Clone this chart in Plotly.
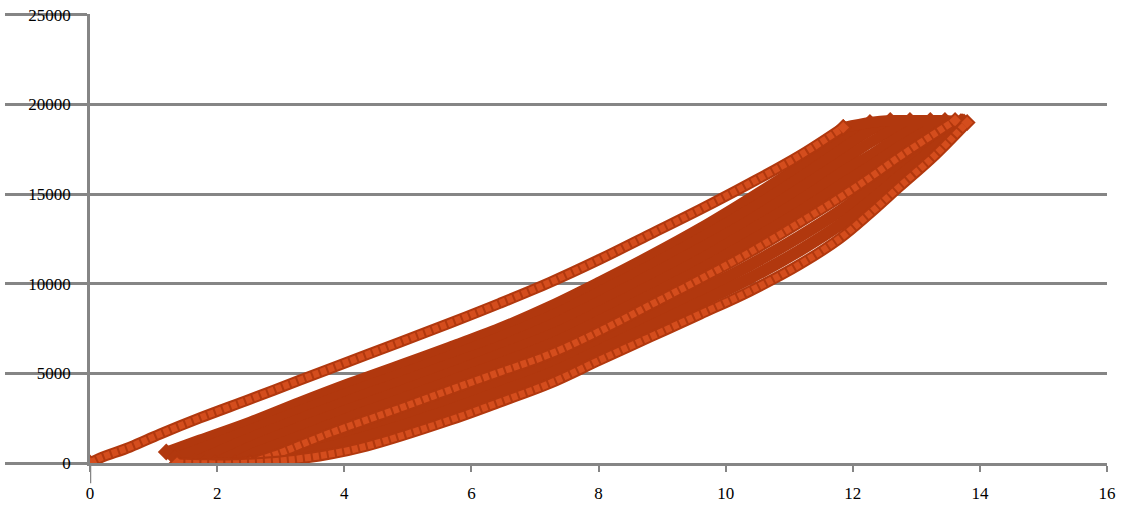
import plotly.graph_objects as go

# ---- data (stroke vs. load) ----
# initial loading curve
a_x = [0, 0.16, 0.63, 1.10, 1.73, 2.52, 3.30, 4.09, 4.88, 5.66, 6.45, 7.24, 8.02, 8.81, 9.60, 10.38, 11.17, 11.85]
a_y = [0, 280, 890, 1610, 2510, 3560, 4620, 5680, 6740, 7800, 8910, 10080, 11360, 12750, 14140, 15590, 17150, 18710]

# upper edge of the dense cycle band
b_x = [1.20, 1.73, 2.52, 3.30, 4.09, 4.88, 5.66, 6.45, 7.24, 8.02, 8.81, 9.60, 10.38, 11.17, 11.80, 12.27]
b_y = [610, 1280, 2280, 3380, 4450, 5460, 6460, 7520, 8740, 10100, 11550, 13090, 14760, 16540, 18100, 18990]

# cycles inside the band
c1_x = [1.34, 1.73, 2.52, 3.30, 4.09, 4.88, 5.66, 6.45, 7.24, 8.02, 8.81, 9.60, 10.38, 11.17, 11.80, 12.27, 12.59]
c1_y = [280, 780, 1840, 2900, 3950, 4960, 5960, 7020, 8190, 9550, 11000, 12530, 14140, 15920, 17430, 18540, 19100]

c2_x = [1.65, 2.52, 3.30, 4.09, 4.88, 5.66, 6.45, 7.24, 8.02, 8.81, 9.60, 10.38, 11.17, 11.80, 12.27, 12.74, 12.90]
c2_y = [60, 1390, 2450, 3510, 4510, 5510, 6510, 7680, 9010, 10460, 11970, 13530, 15310, 16760, 17870, 18820, 19100]

c3_x = [1.97, 2.52, 3.30, 4.09, 4.88, 5.66, 6.45, 7.24, 8.02, 8.81, 9.60, 10.38, 11.17, 11.80, 12.27, 12.74, 13.22]
c3_y = [0, 890, 2000, 3010, 4010, 5010, 6070, 7130, 8450, 9880, 11360, 12970, 14640, 16150, 17150, 18210, 19100]

c4_x = [2.28, 2.52, 3.30, 4.09, 4.88, 5.66, 6.45, 7.24, 8.02, 8.81, 9.60, 10.38, 11.17, 11.80, 12.27, 12.74, 13.22, 13.45]
c4_y = [0, 450, 1500, 2560, 3560, 4570, 5570, 6630, 7950, 9350, 10800, 12360, 14030, 15480, 16540, 17650, 18650, 19100]

# peak load of each cycle
pk_x = [11.85, 12.27, 12.59, 12.90, 13.22, 13.45, 13.72]
pk_y = [18710, 18990, 19100, 19100, 19100, 19100, 19040]

# last unloading curves (lower edge)
l1_x = [2.52, 2.99, 3.30, 3.78, 4.88, 5.66, 6.45, 7.24, 8.02, 8.81, 9.60, 10.38, 11.17, 11.80, 12.27, 12.74, 13.22, 13.61]
l1_y = [0, 560, 1000, 1670, 3060, 4070, 5070, 6070, 7350, 8800, 10250, 11750, 13420, 14810, 15920, 17090, 18210, 19100]

m1_x = [2.36, 2.52, 2.99, 3.30, 3.78, 4.88, 5.66, 6.45, 7.24, 8.02, 8.81, 9.60, 10.38, 11.17, 11.80, 12.27, 12.74, 13.22, 13.70]
m1_y = [0, 60, 410, 750, 1280, 2550, 3510, 4510, 5530, 6810, 8210, 9600, 11030, 12640, 14050, 15250, 16530, 17780, 19000]

m2_x = [1.80, 2.52, 2.99, 3.30, 3.78, 4.88, 5.66, 6.45, 7.24, 8.02, 8.81, 9.60, 10.38, 11.17, 11.80, 12.27, 12.74, 13.22, 13.75]
m2_y = [-50, 20, 260, 510, 890, 2040, 2950, 3960, 4990, 6280, 7610, 8950, 10300, 11860, 13290, 14590, 15980, 17360, 18990]

l2_x = [1.37, 2.20, 2.99, 3.78, 4.36, 5.66, 6.45, 7.24, 8.02, 8.81, 9.60, 10.38, 11.17, 11.80, 12.27, 12.74, 13.29, 13.80]
l2_y = [0, -50, 110, 500, 950, 2390, 3400, 4450, 5740, 7020, 8300, 9580, 11080, 12530, 13920, 15420, 17150, 18990]

x_ticks = [0, 2, 4, 6, 8, 10, 12, 14, 16]
y_ticks = [0, 5000, 10000, 15000, 20000, 25000]

DARK = "#B1380E"
LIGHT = "#D44D1D"
GRID = "#858585"

fig = go.Figure()


def end_sizes(n, s):
    return [s] + [0] * (n - 2) + [s]


def add_curve(x, y, light, width=11):
    fig.add_trace(go.Scatter(
        x=x, y=y, mode="lines+markers",
        line=dict(color=DARK, width=width, shape="spline"),
        marker=dict(symbol="diamond", size=end_sizes(len(x), width + 2),
                    color=DARK, opacity=1, line=dict(width=0)),
        hoverinfo="skip", showlegend=False))
    if light:
        fig.add_trace(go.Scatter(
            x=x, y=y, mode="lines+markers",
            line=dict(color=LIGHT, width=width - 4, shape="spline", dash="6px,2px"),
            marker=dict(symbol="diamond", size=end_sizes(len(x), width - 2),
                        color=LIGHT, opacity=1, line=dict(width=0)),
            hoverinfo="skip", showlegend=False))


for cx, cy in [(b_x, b_y), (c1_x, c1_y), (c2_x, c2_y), (c3_x, c3_y), (c4_x, c4_y), (pk_x, pk_y)]:
    add_curve(cx, cy, False)
add_curve(m1_x, m1_y, False, 12)
add_curve(m2_x, m2_y, False, 12)
add_curve(l1_x, l1_y, True)
add_curve(l2_x, l2_y, True)
add_curve(a_x, a_y, True)

fig.update_layout(
    width=1121, height=506,
    margin=dict(l=90, r=14, t=14, b=43, autoexpand=False),
    paper_bgcolor="white", plot_bgcolor="white",
    showlegend=False,
    font=dict(family="Liberation Serif", size=17, color="black"),
    shapes=[dict(type="line", xref="x", yref="paper", x0=0, x1=0, y0=-0.045, y1=0,
                 line=dict(color=GRID, width=2.5), layer="below")],
)
fig.update_xaxes(
    range=[0, 16], tickvals=x_ticks, ticktext=[str(v) for v in x_ticks],
    automargin=False,
    showgrid=False, zeroline=False,
    showline=True, linecolor=GRID, linewidth=2.5,
    ticks="outside", ticklen=6, tickwidth=2, tickcolor=GRID,
    ticklabelstandoff=7,
)
fig.update_yaxes(
    range=[0, 25040], tickvals=y_ticks, ticktext=[str(v) for v in y_ticks],
    automargin=False,
    showgrid=True, gridcolor=GRID, gridwidth=2.5, zeroline=False,
    showline=True, linecolor=GRID, linewidth=2.5,
    ticks="outside", ticklen=82, tickwidth=2.5, tickcolor=GRID,
    ticklabelstandoff=-69,
)

fig.write_html(
    "out.html",
    config={"displayModeBar": False},
    post_script="document.body.style.margin='0';document.body.style.padding='0';",
)
